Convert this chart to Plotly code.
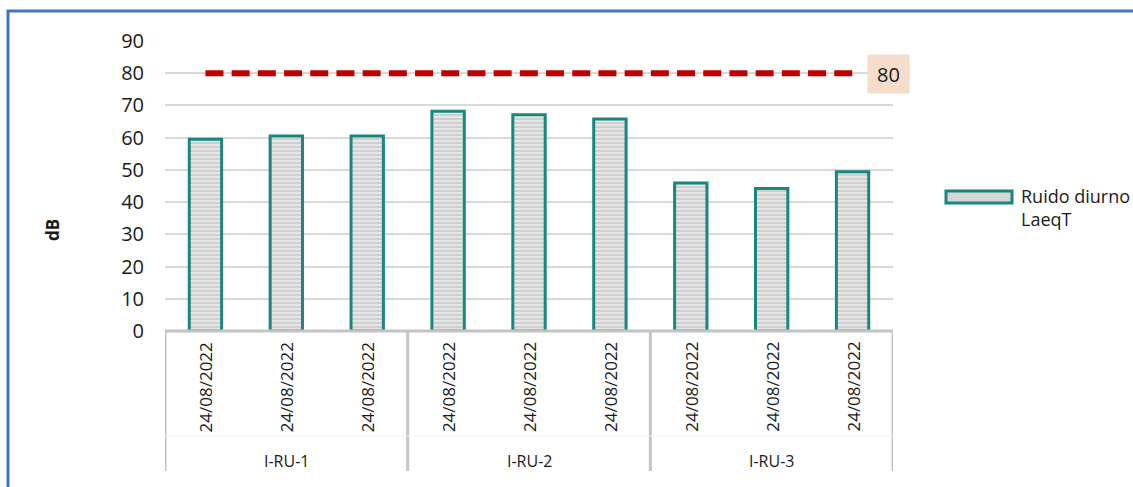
import plotly.graph_objects as go

# Noise measurements (dB) per station and date
stations = ["I-RU-1", "I-RU-2", "I-RU-3"]
dates = ["24/08/2022"] * 9
station_of = ["I-RU-1"] * 3 + ["I-RU-2"] * 3 + ["I-RU-3"] * 3
ruido_diurno = [59.5, 60.5, 60.5, 68.2, 67.1, 65.8, 45.9, 44.2, 49.4]
limite = [80] * 9
y_ticks = [0, 10, 20, 30, 40, 50, 60, 70, 80, 90]

FONT = "Open Sans"
TEAL = "#17877f"
W, H = 1133, 487
L, R, T, B = 165, 240, 41, 156
pw, ph = W - L - R, H - T - B

def px_to_paper_x(px):
    return (px - L) / pw

def px_to_paper_y(py):
    return 1 - (py - T) / ph

x_pos = list(range(len(ruido_diurno)))

fig = go.Figure()

fig.add_trace(go.Bar(
    x=x_pos, y=ruido_diurno, width=0.4,
    name="Ruido diurno LaeqT", showlegend=False,
    marker=dict(
        color="#e4e4e4",
        line=dict(color=TEAL, width=3),
        pattern=dict(shape="-", fgcolor="#b4b4b4", bgcolor="#e6e6e6",
                     size=4, solidity=0.45),
    ),
    hoverinfo="y",
))

fig.add_trace(go.Scatter(
    x=x_pos, y=limite, mode="lines", showlegend=False,
    line=dict(color="#c00000", width=6, dash="18px,8.2px"),
    hoverinfo="y",
))

shapes = []
# group separators of the two-level category axis
group_bounds = [-0.5, 2.5, 5.5, 8.5]
for gb in group_bounds:
    shapes.append(dict(type="line", xref="x", yref="paper",
                       x0=gb, x1=gb, y0=0, y1=px_to_paper_y(471),
                       line=dict(color="#c4c4c4", width=3)))
# base axis line
shapes.append(dict(type="line", xref="x", yref="paper",
                   x0=-0.5, x1=8.5, y0=0, y1=0,
                   line=dict(color="#c4c4c4", width=3)))
# faint line between the two label levels
shapes.append(dict(type="line", xref="x", yref="paper",
                   x0=-0.5, x1=8.5, y0=px_to_paper_y(436), y1=px_to_paper_y(436),
                   line=dict(color="#f2f2f2", width=1)))
# legend swatch
shapes.append(dict(type="rect", xref="paper", yref="paper",
                   x0=px_to_paper_x(946), x1=px_to_paper_x(1012),
                   y0=px_to_paper_y(203), y1=px_to_paper_y(191),
                   fillcolor="#d6d6d6", line=dict(color=TEAL, width=3)))
# outer chart frame
shapes.append(dict(type="rect", xref="paper", yref="paper",
                   x0=px_to_paper_x(8), x1=px_to_paper_x(1200),
                   y0=px_to_paper_y(560), y1=px_to_paper_y(11),
                   line=dict(color="#4472c4", width=3), fillcolor="rgba(0,0,0,0)"))

annotations = []
for i, d in enumerate(dates):
    annotations.append(dict(x=i, y=px_to_paper_y(387), xref="x", yref="paper",
                            xanchor="center", yanchor="middle",
                            text=d, showarrow=False, textangle=-90,
                            font=dict(family=FONT, size=17, color="#1a1a1a")))
for k, s in enumerate(stations):
    xs = [i for i, st in enumerate(station_of) if st == s]
    annotations.append(dict(x=sum(xs) / len(xs), y=px_to_paper_y(461),
                            xref="x", yref="paper", xanchor="center", yanchor="middle",
                            text=s, showarrow=False,
                            font=dict(family=FONT, size=16, color="#1a1a1a")))

# value label on the limit line
annotations.append(dict(x=x_pos[-1], y=limite[-1], xref="x", yref="y",
                        text=str(limite[-1]), showarrow=False, xshift=36, yshift=-1,
                        xanchor="center", yanchor="middle",
                        bgcolor="#f6dccb", width=33, height=30, borderpad=4,
                        font=dict(family=FONT, size=20, color="#1a1a1a")))

# y-axis title
annotations.append(dict(x=px_to_paper_x(52), y=px_to_paper_y(230),
                        xref="paper", yref="paper", xanchor="center", yanchor="middle",
                        text="<b>dB</b>", showarrow=False, textangle=-90,
                        font=dict(family=FONT, size=17, color="#1a1a1a")))

# legend text
annotations.append(dict(x=px_to_paper_x(1019), y=px_to_paper_y(182),
                        xref="paper", yref="paper", xanchor="left", yanchor="top",
                        align="left", text="Ruido diurno<br>LaeqT", showarrow=False,
                        font=dict(family=FONT, size=18, color="#1a1a1a")))

fig.update_layout(
    width=W, height=H,
    margin=dict(l=L, r=R, t=T, b=B),
    paper_bgcolor="white", plot_bgcolor="white",
    showlegend=False,
    xaxis=dict(range=[-0.5, 8.5], showticklabels=False, showgrid=False,
               zeroline=False, showline=False, fixedrange=True),
    yaxis=dict(range=[0, 90], tickvals=y_ticks, showgrid=True,
               gridcolor="#d9d9d9", gridwidth=1.5, zeroline=False,
               showline=False, ticklabelstandoff=20,
               tickfont=dict(family=FONT, size=20, color="#1a1a1a")),
    shapes=shapes,
    annotations=annotations,
    bargap=0.6,
)

fig.write_html("out.html")
